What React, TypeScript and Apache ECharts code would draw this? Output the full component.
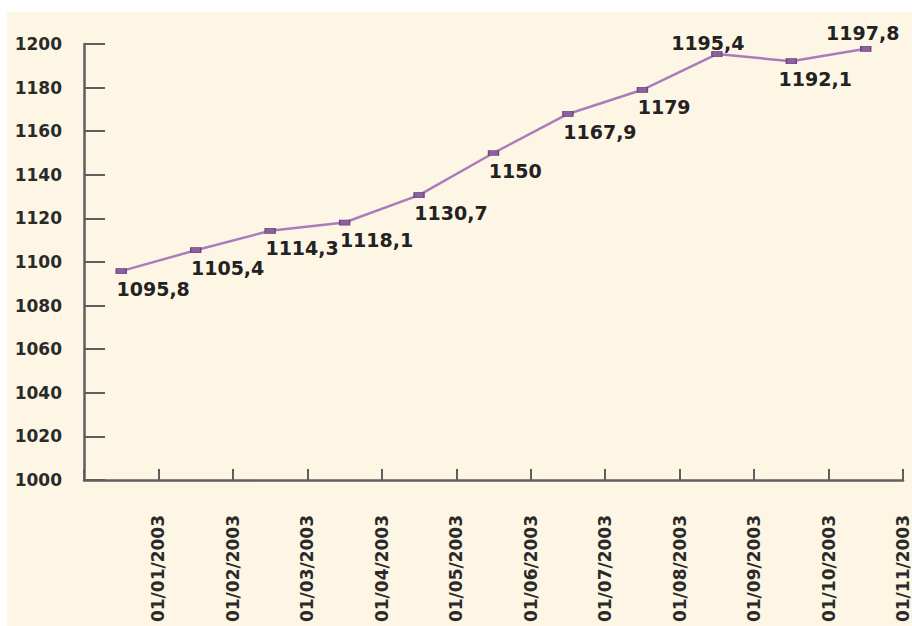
import React, { useEffect, useRef } from "react";
import * as echarts from "echarts";

const categories = [
  "01/01/2003", "01/02/2003", "01/03/2003", "01/04/2003", "01/05/2003", "01/06/2003",
  "01/07/2003", "01/08/2003", "01/09/2003", "01/10/2003", "01/11/2003",
];
const values = [1095.8, 1105.4, 1114.3, 1118.1, 1130.7, 1150, 1167.9, 1179, 1195.4, 1192.1, 1197.8];
const yMin = 1000;
const yMax = 1200;
const yStep = 20;

const FONT = "DejaVu Sans";

export default function App() {
  const ref = useRef<HTMLDivElement>(null);
  useEffect(() => {
    if (!ref.current) return;
    const chart = echarts.init(ref.current, undefined, { renderer: "svg" });
    const labelOffsets: Record<number, [number, number]> = {
      8: [-40, -18],
      9: [-7, 11],
      10: [-34, -22],
    };
    const data = values.map((v, i) => ({
      value: [i + 0.5, v],
      label: { position: labelOffsets[i] ?? [1, 11] },
    }));
    chart.setOption({
      animation: false,
      backgroundColor: "#ffffff",
      graphic: [
        {
          type: "rect",
          left: 7,
          top: 12,
          shape: { width: 905, height: 614 },
          style: { fill: "#FEF6E5" },
          z: -10,
          silent: true,
        },
      ],
      grid: { left: 84, right: 9, top: 44, bottom: 146, containLabel: false },
      xAxis: {
        type: "value",
        min: 0,
        max: categories.length,
        interval: 1,
        splitLine: { show: false },
        axisLine: { show: true, onZero: false, lineStyle: { color: "#5e5e5e", width: 2.5 } },
        axisTick: { show: true, inside: true, length: 11, lineStyle: { color: "#5e5e5e", width: 2 } },
        axisLabel: {
          rotate: 90,
          margin: 35,
          fontFamily: FONT,
          fontWeight: "bold",
          fontSize: 17,
          color: "#2a2a2a",
          showMinLabel: true,
          showMaxLabel: true,
          formatter: (v: number) => (v >= 1 ? categories[Math.round(v) - 1] ?? "" : ""),
        },
      },
      yAxis: {
        type: "value",
        min: yMin,
        max: yMax,
        interval: yStep,
        splitLine: { show: false },
        axisLine: { show: true, lineStyle: { color: "#5e5e5e", width: 2.5 } },
        axisTick: { show: true, inside: true, length: 21, lineStyle: { color: "#5e5e5e", width: 2 } },
        axisLabel: {
          margin: 22,
          fontFamily: FONT,
          fontWeight: "bold",
          fontSize: 17,
          color: "#2a2a2a",
          padding: [5, 0, 0, 0],
          formatter: (v: number) => String(v),
        },
      },
      series: [
        {
          type: "line",
          data,
          symbol: "rect",
          symbolSize: [10, 5],
          showAllSymbol: true,
          lineStyle: { color: "#A97DBB", width: 2.5 },
          itemStyle: { color: "#8F5FA0", borderColor: "#6E4580", borderWidth: 1 },
          label: {
            show: true,
            align: "left",
            verticalAlign: "top",
            fontFamily: FONT,
            fontWeight: "bold",
            fontSize: 19,
            color: "#222222",
            formatter: (p: any) => String(p.value[1]).replace(".", ","),
          },
        },
      ],
    });
    return () => chart.dispose();
  }, []);
  return (
    <div
      ref={ref}
      style={{ position: "fixed", left: 0, top: 0, width: 912, height: 626 }}
    />
  );
}
